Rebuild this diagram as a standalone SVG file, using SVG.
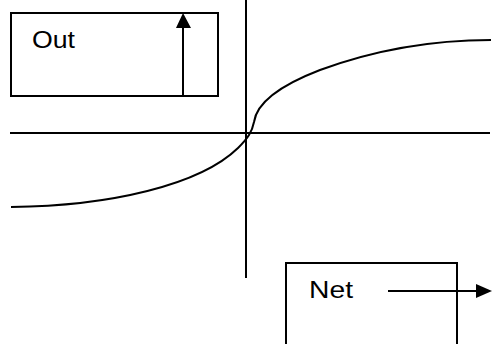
<svg xmlns="http://www.w3.org/2000/svg" width="493" height="344" viewBox="0 0 493 344">
<style>
.ln{stroke:#000;stroke-width:2;fill:none}
.box{stroke:#000;stroke-width:2;fill:#fff}
.lbl{font-family:"Liberation Sans",Arial,sans-serif;font-size:24.5px;fill:#000}
</style>
<rect width="493" height="344" fill="#fff"/>
<g id="out">
<rect class="box" x="11" y="13" width="207" height="83"/>
<text class="lbl" x="32" y="48" textLength="43" lengthAdjust="spacingAndGlyphs">Out</text>
</g>
<g id="net">
<rect class="box" x="286" y="263" width="171" height="90"/>
<text class="lbl" x="309" y="298" textLength="44" lengthAdjust="spacingAndGlyphs">Net</text>
</g>
<g id="connectors">
<line class="ln" x1="246" y1="0" x2="246" y2="278"/>
<line class="ln" x1="10" y1="133" x2="490" y2="133"/>
<path class="ln" d="M11,207 C110,206 200,185 238,148 C248,138 252,132 254,122 C256,108 268,90 320,70 C380,48 440,40 491,40"/>
<line class="ln" x1="183" y1="96" x2="183" y2="28"/>
<path d="M176,28 L183,13 L191,28 Z" fill="#000"/>
<line class="ln" x1="388" y1="291" x2="476" y2="291"/>
<path d="M476,284 L492,291 L476,298 Z" fill="#000"/>
</g>
</svg>
